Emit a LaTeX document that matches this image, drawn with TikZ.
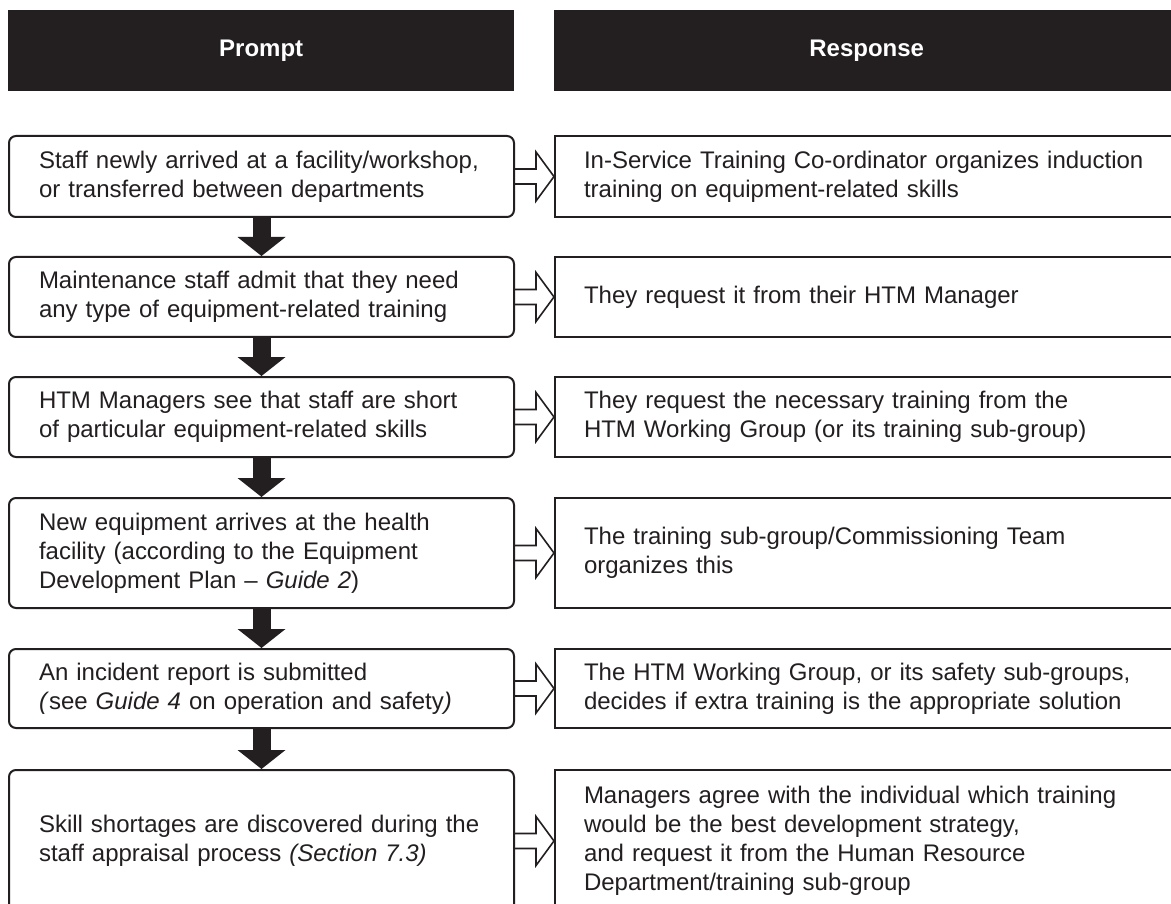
\documentclass[tikz,border=0pt]{standalone}
\usepackage{fontspec}
\setmainfont{Liberation Sans}
\usetikzlibrary{arrows.meta,calc,positioning}
\definecolor{inkdark}{HTML}{231F20}
\newcommand{\bodyfont}{\fontsize{24}{29}\selectfont}
\tikzset{
  headbox/.style={fill=inkdark,text=white,font=\fontsize{24}{28}\selectfont\bfseries,minimum height=81pt,inner sep=0pt,anchor=north west},
  promptbox/.style={draw=inkdark,line width=2pt,rounded corners=7pt,text=inkdark,align=left,text width=445pt,inner xsep=30pt,inner ysep=0pt,anchor=west,font=\bodyfont},
  responsebox/.style={draw=inkdark,line width=2pt,text=inkdark,align=left,text width=600pt,inner xsep=29pt,inner ysep=0pt,anchor=west,font=\bodyfont},
  downarrow/.style={draw=inkdark,line width=18pt,-{Triangle[width=48pt,length=19pt,line width=0pt]}},
  sidearrow/.style={draw=inkdark,line width=1.6pt,line join=miter}
}
\begin{document}
\begin{tikzpicture}[x=1pt,y=-1pt]
  \fill[white] (0,0) rectangle (1171,904);
  \useasboundingbox (0,0) rectangle (1171,904);
  % column heads
  \node[headbox,minimum width=506pt] (prompthead) at (8,10) {Prompt};
  \node[headbox,minimum width=625pt] (responsehead) at (554,10) {Response};
  % prompts
  \node[promptbox,minimum height=81pt] (p1) at (8,176.5) {Staff newly arrived at a facility/workshop,\\or transferred between departments};
  \node[promptbox,minimum height=80pt,below=38pt of p1] (p2) {Maintenance staff admit that they need\\any type of equipment-related training};
  \node[promptbox,minimum height=80pt,below=38pt of p2] (p3) {HTM Managers see that staff are short\\of particular equipment-related skills};
  \node[promptbox,minimum height=110pt,below=39pt of p3] (p4) {New equipment arrives at the health\\facility (according to the Equipment\\Development Plan -- \textit{Guide 2})};
  \node[promptbox,minimum height=79pt,below=39pt of p4] (p5) {An incident report is submitted\\\textit{(}see \textit{Guide 4} on operation and safety\textit{)}};
  \node[promptbox,minimum height=142pt,below=40pt of p5] (p6) {Skill shortages are discovered during the\\staff appraisal process \textit{(Section 7.3)}};
  % responses
  \node[responsebox,minimum height=81pt,right=39pt of p1] (r1) {In-Service Training Co-ordinator organizes induction\\training on equipment-related skills};
  \node[responsebox,minimum height=80pt,right=39pt of p2] (r2) {They request it from their HTM Manager};
  \node[responsebox,minimum height=80pt,right=39pt of p3] (r3) {They request the necessary training from the\\HTM Working Group (or its training sub-group)};
  \node[responsebox,minimum height=110pt,right=39pt of p4] (r4) {The training sub-group/Commissioning Team\\organizes this};
  \node[responsebox,minimum height=79pt,right=39pt of p5] (r5) {The HTM Working Group, or its safety sub-groups,\\decides if extra training is the appropriate solution};
  \node[responsebox,minimum height=142pt,right=39pt of p6] (r6) {Managers agree with the individual which training\\would be the best development strategy,\\and request it from the Human Resource\\Department/training sub-group};
  % flow down the prompts
  \draw[downarrow] (p1.south) -- (p2.north);
  \draw[downarrow] (p2.south) -- (p3.north);
  \draw[downarrow] (p3.south) -- (p4.north);
  \draw[downarrow] (p4.south) -- (p5.north);
  \draw[downarrow] (p5.south) -- (p6.north);
  % prompt to response
  \draw[sidearrow] ($(p1.east)+(0,-7.5)$) -- ++(21,0) -- ++(0,-17) -- (r1.west) -- ++(-18,24.5) -- ++(0,-17) -- ($(p1.east)+(0,7.5)$);
  \draw[sidearrow] ($(p2.east)+(0,-7.5)$) -- ++(21,0) -- ++(0,-17) -- (r2.west) -- ++(-18,24.5) -- ++(0,-17) -- ($(p2.east)+(0,7.5)$);
  \draw[sidearrow] ($(p3.east)+(0,-7.5)$) -- ++(21,0) -- ++(0,-17) -- (r3.west) -- ++(-18,24.5) -- ++(0,-17) -- ($(p3.east)+(0,7.5)$);
  \draw[sidearrow] ($(p4.east)+(0,-7.5)$) -- ++(21,0) -- ++(0,-17) -- (r4.west) -- ++(-18,24.5) -- ++(0,-17) -- ($(p4.east)+(0,7.5)$);
  \draw[sidearrow] ($(p5.east)+(0,-7.5)$) -- ++(21,0) -- ++(0,-17) -- (r5.west) -- ++(-18,24.5) -- ++(0,-17) -- ($(p5.east)+(0,7.5)$);
  \draw[sidearrow] ($(p6.east)+(0,-7.5)$) -- ++(21,0) -- ++(0,-17) -- (r6.west) -- ++(-18,24.5) -- ++(0,-17) -- ($(p6.east)+(0,7.5)$);
\end{tikzpicture}
\end{document}
